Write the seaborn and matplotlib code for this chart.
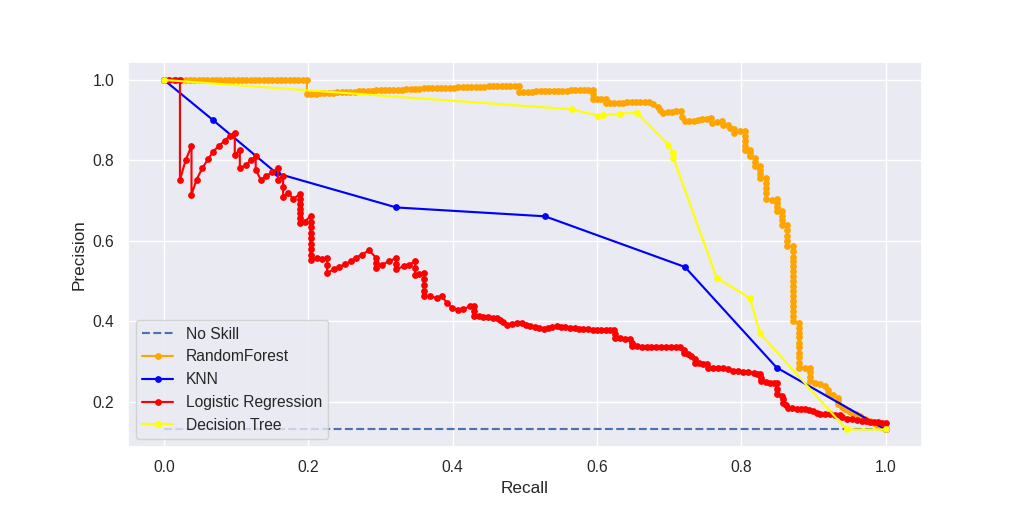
import matplotlib
matplotlib.use("Agg")
import matplotlib.pyplot as plt
import seaborn as sns

# ---------------- data (recall, precision) ----------------
noskill_recall = [0.0, 1.0]
noskill_precision = [0.131, 0.131]

rf_points = [
    (0.000, 1.000), (0.006, 1.000), (0.012, 1.000), (0.018, 1.000), (0.024, 1.000),
    (0.030, 1.000), (0.036, 1.000), (0.042, 1.000), (0.048, 1.000), (0.054, 1.000),
    (0.060, 1.000), (0.066, 1.000), (0.072, 1.000), (0.078, 1.000), (0.084, 1.000),
    (0.090, 1.000), (0.096, 1.000), (0.102, 1.000), (0.108, 1.000), (0.114, 1.000),
    (0.120, 1.000), (0.126, 1.000), (0.132, 1.000), (0.138, 1.000), (0.144, 1.000),
    (0.150, 1.000), (0.156, 1.000), (0.162, 1.000), (0.168, 1.000), (0.174, 1.000),
    (0.180, 1.000), (0.186, 1.000), (0.192, 1.000), (0.198, 1.000),
    (0.198, 0.965), (0.204, 0.966), (0.210, 0.966), (0.216, 0.967), (0.222, 0.967),
    (0.228, 0.968), (0.234, 0.968), (0.240, 0.969), (0.246, 0.970), (0.252, 0.970),
    (0.258, 0.971), (0.264, 0.971), (0.270, 0.972), (0.276, 0.972), (0.282, 0.973),
    (0.288, 0.973), (0.294, 0.974), (0.300, 0.974), (0.306, 0.975), (0.312, 0.975),
    (0.318, 0.976), (0.324, 0.976), (0.330, 0.976), (0.336, 0.977), (0.342, 0.977),
    (0.348, 0.978), (0.354, 0.978), (0.360, 0.979), (0.366, 0.979), (0.372, 0.979),
    (0.378, 0.980), (0.384, 0.980), (0.390, 0.981), (0.396, 0.981), (0.402, 0.981),
    (0.408, 0.982), (0.414, 0.982), (0.420, 0.982), (0.426, 0.983), (0.432, 0.983),
    (0.438, 0.983), (0.444, 0.983), (0.450, 0.984), (0.456, 0.984), (0.462, 0.984),
    (0.468, 0.985), (0.474, 0.985), (0.480, 0.985), (0.486, 0.985), (0.492, 0.985),
    (0.492, 0.971), (0.498, 0.971), (0.504, 0.971), (0.510, 0.971), (0.516, 0.972),
    (0.522, 0.972), (0.528, 0.972), (0.534, 0.972), (0.540, 0.973), (0.546, 0.973),
    (0.552, 0.973), (0.558, 0.973), (0.564, 0.974), (0.570, 0.974), (0.576, 0.974),
    (0.582, 0.975), (0.588, 0.975), (0.594, 0.976),
    (0.594, 0.964), (0.594, 0.952), (0.600, 0.952), (0.606, 0.953), (0.612, 0.953),
    (0.612, 0.942), (0.618, 0.942), (0.624, 0.942), (0.630, 0.943), (0.636, 0.943),
    (0.642, 0.944), (0.648, 0.944), (0.654, 0.945), (0.660, 0.945), (0.666, 0.946),
    (0.672, 0.946), (0.678, 0.940), (0.684, 0.932), (0.688, 0.925), (0.692, 0.919),
    (0.698, 0.920), (0.704, 0.921), (0.710, 0.922), (0.716, 0.922),
    (0.718, 0.907), (0.722, 0.897), (0.728, 0.898), (0.734, 0.899), (0.740, 0.901),
    (0.746, 0.903), (0.752, 0.904), (0.758, 0.905), (0.760, 0.894), (0.766, 0.895),
    (0.773, 0.897), (0.775, 0.888), (0.782, 0.888), (0.784, 0.880), (0.790, 0.878),
    (0.790, 0.869), (0.798, 0.872), (0.805, 0.872),
    (0.805, 0.860), (0.805, 0.849), (0.805, 0.837), (0.805, 0.826), (0.812, 0.826),
    (0.812, 0.818), (0.812, 0.810), (0.819, 0.806), (0.819, 0.796), (0.819, 0.785),
    (0.826, 0.785), (0.826, 0.775), (0.826, 0.766), (0.826, 0.756), (0.834, 0.756),
    (0.834, 0.744), (0.834, 0.731), (0.834, 0.718), (0.834, 0.704), (0.842, 0.702),
    (0.849, 0.704), (0.849, 0.693), (0.849, 0.683), (0.849, 0.673), (0.857, 0.673),
    (0.857, 0.662), (0.857, 0.651), (0.857, 0.640), (0.864, 0.640), (0.864, 0.627),
    (0.864, 0.613), (0.864, 0.600), (0.864, 0.586), (0.872, 0.586),
    (0.872, 0.574), (0.872, 0.561), (0.872, 0.549), (0.872, 0.537), (0.872, 0.524),
    (0.872, 0.512), (0.872, 0.500), (0.872, 0.488), (0.872, 0.475), (0.872, 0.462),
    (0.872, 0.450), (0.872, 0.437), (0.872, 0.425), (0.872, 0.412), (0.872, 0.400),
    (0.880, 0.396), (0.880, 0.384), (0.880, 0.372), (0.880, 0.360), (0.880, 0.347),
    (0.880, 0.335), (0.880, 0.322), (0.880, 0.310), (0.880, 0.297), (0.880, 0.285),
    (0.888, 0.285), (0.895, 0.285), (0.895, 0.273), (0.895, 0.262), (0.895, 0.251),
    (0.902, 0.247), (0.909, 0.243), (0.916, 0.239), (0.920, 0.229), (0.920, 0.218),
    (0.927, 0.216), (0.934, 0.210), (0.934, 0.202), (0.934, 0.194), (0.940, 0.186),
    (0.944, 0.181), (0.949, 0.177), (0.953, 0.173), (0.959, 0.169), (0.964, 0.165),
    (0.971, 0.158), (0.978, 0.152), (0.984, 0.146), (0.990, 0.140), (0.995, 0.136),
    (1.000, 0.131),
]

knn_points = [
    (0.000, 1.000), (0.068, 0.900), (0.156, 0.768), (0.322, 0.683),
    (0.528, 0.661), (0.722, 0.535), (0.849, 0.285), (1.000, 0.131),
]

lr_points = [
    (0.000, 1.000), (0.007, 1.000), (0.015, 1.000), (0.022, 1.000),
    (0.022, 0.752), (0.030, 0.801), (0.038, 0.836),
    (0.038, 0.715), (0.045, 0.752), (0.053, 0.781), (0.061, 0.803), (0.068, 0.822),
    (0.076, 0.836), (0.084, 0.849), (0.091, 0.861), (0.098, 0.869),
    (0.098, 0.814), (0.105, 0.826), (0.105, 0.781), (0.114, 0.789), (0.121, 0.801),
    (0.127, 0.811), (0.127, 0.777), (0.134, 0.752), (0.141, 0.760), (0.149, 0.770),
    (0.158, 0.781), (0.158, 0.752), (0.165, 0.760), (0.165, 0.735), (0.165, 0.710),
    (0.172, 0.720), (0.179, 0.704), (0.188, 0.716),
    (0.188, 0.704), (0.188, 0.692), (0.188, 0.680), (0.188, 0.668), (0.188, 0.656),
    (0.188, 0.644), (0.195, 0.648), (0.203, 0.661),
    (0.203, 0.648), (0.203, 0.634), (0.203, 0.620), (0.203, 0.607), (0.203, 0.593),
    (0.203, 0.580), (0.203, 0.566), (0.203, 0.553),
    (0.212, 0.558), (0.219, 0.555), (0.226, 0.558), (0.226, 0.539), (0.226, 0.520),
    (0.235, 0.529), (0.243, 0.535), (0.251, 0.543), (0.259, 0.549), (0.266, 0.558),
    (0.274, 0.566), (0.284, 0.576),
    (0.294, 0.558), (0.294, 0.545), (0.294, 0.533), (0.302, 0.541), (0.312, 0.549),
    (0.322, 0.558), (0.322, 0.543), (0.322, 0.529), (0.332, 0.537), (0.340, 0.541),
    (0.348, 0.549), (0.348, 0.532), (0.348, 0.516), (0.354, 0.518), (0.360, 0.520),
    (0.360, 0.506), (0.360, 0.491), (0.360, 0.476), (0.360, 0.462), (0.369, 0.462),
    (0.378, 0.458), (0.385, 0.462), (0.392, 0.446), (0.399, 0.434), (0.408, 0.429),
    (0.415, 0.431), (0.424, 0.437), (0.429, 0.437),
    (0.429, 0.425), (0.429, 0.413), (0.436, 0.412), (0.442, 0.411), (0.449, 0.410),
    (0.456, 0.409), (0.462, 0.407), (0.466, 0.404), (0.470, 0.398), (0.475, 0.392),
    (0.482, 0.394), (0.489, 0.395), (0.496, 0.396), (0.502, 0.392), (0.507, 0.388),
    (0.514, 0.386), (0.520, 0.383), (0.526, 0.381), (0.532, 0.384), (0.538, 0.386),
    (0.544, 0.388), (0.550, 0.386), (0.556, 0.385), (0.563, 0.384), (0.569, 0.383),
    (0.575, 0.382), (0.581, 0.381), (0.587, 0.380), (0.594, 0.379), (0.600, 0.378),
    (0.606, 0.378), (0.612, 0.378), (0.618, 0.378), (0.623, 0.378),
    (0.625, 0.368), (0.625, 0.359), (0.632, 0.358), (0.639, 0.356), (0.646, 0.355),
    (0.648, 0.346), (0.648, 0.338), (0.655, 0.338), (0.662, 0.337), (0.669, 0.337),
    (0.675, 0.337), (0.682, 0.337), (0.689, 0.337), (0.696, 0.337), (0.703, 0.337),
    (0.709, 0.337), (0.715, 0.337), (0.720, 0.329), (0.720, 0.322), (0.726, 0.318),
    (0.731, 0.313), (0.736, 0.305), (0.736, 0.297), (0.742, 0.296), (0.747, 0.294),
    (0.752, 0.293), (0.754, 0.285), (0.761, 0.285), (0.768, 0.285), (0.775, 0.285),
    (0.782, 0.281), (0.789, 0.276), (0.796, 0.276), (0.803, 0.275), (0.810, 0.274),
    (0.817, 0.272), (0.822, 0.270), (0.826, 0.268), (0.828, 0.259), (0.828, 0.251),
    (0.834, 0.249), (0.840, 0.247), (0.845, 0.247), (0.849, 0.247), (0.849, 0.232),
    (0.849, 0.218), (0.856, 0.214), (0.858, 0.206), (0.858, 0.198), (0.862, 0.191),
    (0.865, 0.185), (0.871, 0.184), (0.877, 0.183), (0.883, 0.182), (0.888, 0.181),
    (0.894, 0.179), (0.900, 0.177), (0.905, 0.173), (0.909, 0.169), (0.916, 0.169),
    (0.923, 0.169), (0.930, 0.167), (0.937, 0.166), (0.939, 0.161), (0.946, 0.158),
    (0.953, 0.156), (0.960, 0.154), (0.967, 0.152), (0.973, 0.151), (0.978, 0.150),
    (0.984, 0.150), (0.990, 0.150), (0.995, 0.148), (1.000, 0.146),
]

dt_points = [
    (0.000, 1.000), (0.565, 0.927), (0.602, 0.911), (0.609, 0.913), (0.632, 0.916),
    (0.655, 0.919), (0.699, 0.839), (0.706, 0.818), (0.706, 0.806), (0.766, 0.508),
    (0.812, 0.458), (0.826, 0.370), (0.946, 0.131), (1.000, 0.131),
]

models = ["RandomForest", "KNN", "Logistic Regression", "Decision Tree"]
model_points = [rf_points, knn_points, lr_points, dt_points]
model_colors = ["orange", "blue", "red", "yellow"]

# ---------------- plot ----------------
sns.set_theme()
plt.rcParams["font.family"] = ["Liberation Sans", "DejaVu Sans"]

fig, ax = plt.subplots(figsize=(10, 5), dpi=102.4)
fig.subplots_adjust(left=0.125, right=0.9, bottom=0.127, top=0.878)

sns.lineplot(x=noskill_recall, y=noskill_precision, linestyle="--",
             color=sns.color_palette("deep")[0], label="No Skill", ax=ax,
             sort=False, estimator=None)

for name, pts, col in zip(models, model_points, model_colors):
    rec = [p[0] for p in pts]
    prec = [p[1] for p in pts]
    sns.lineplot(x=rec, y=prec, marker=".", markersize=7.5, color=col,
                 label=name, ax=ax, sort=False, estimator=None,
                 markeredgecolor=col, markeredgewidth=1.0)

ax.set_xlabel("Recall")
ax.set_ylabel("Precision")
ax.set_xlim(-0.05, 1.05)
ax.set_ylim(0.0875, 1.0435)
ax.legend(loc="lower left")

fig.savefig("out.png", dpi=102.4)
